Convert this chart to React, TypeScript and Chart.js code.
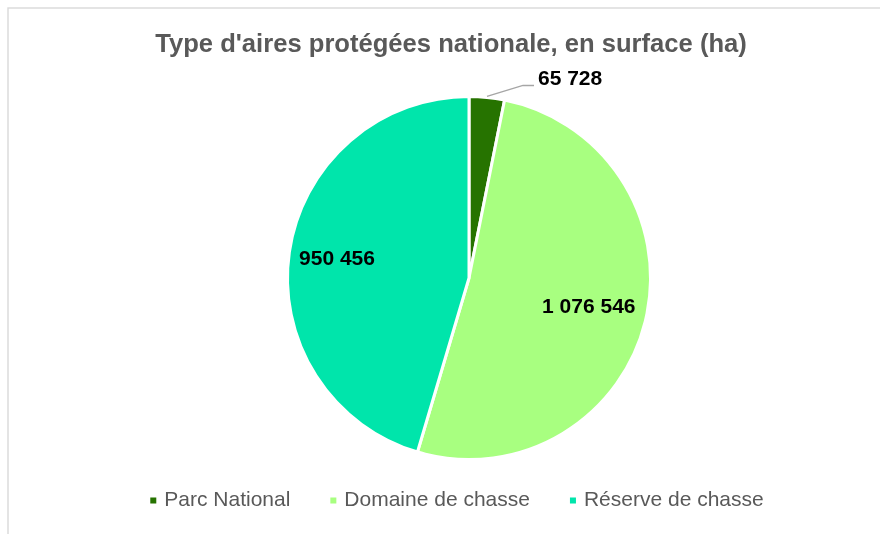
import React, { useEffect, useRef } from "react";
import { Chart, registerables } from "chart.js";

Chart.register(...registerables);

const chartTitle = "Type d'aires protégées nationale, en surface (ha)";
const categories = ["Parc National", "Domaine de chasse", "Réserve de chasse"];
const values = [65728, 1076546, 950456];
const colors = ["#267300", "#a8ff80", "#00e5ab"];
// radial position factor of the inside labels (null = outside with leader line)
const labelRadius: (number | null)[] = [null, 0.68, 0.735];

const fmt = (v: number) => String(v).replace(/\B(?=(\d{3})+(?!\d))/g, " ");

const FONT = "'Liberation Sans', Arial, sans-serif";

const decorPlugin = {
  id: "decor",
  afterDraw(chart: any) {
    const ctx: CanvasRenderingContext2D = chart.ctx;
    ctx.save();
    // outer frame
    ctx.strokeStyle = "#d9d9d9";
    ctx.lineWidth = 1.4;
    ctx.strokeRect(8, 8, 1000, 1000);

    // title
    ctx.fillStyle = "#595959";
    ctx.font = `bold 25.6px ${FONT}`;
    ctx.textAlign = "center";
    ctx.textBaseline = "alphabetic";
    ctx.fillText(chartTitle, 451, 52);

    // data labels
    const meta = chart.getDatasetMeta(0);
    meta.data.forEach((arc: any, i: number) => {
      const p = arc.getProps(["x", "y", "startAngle", "endAngle", "outerRadius"], true);
      const mid = (p.startAngle + p.endAngle) / 2;
      const txt = fmt(values[i]);
      ctx.font = `bold 21px ${FONT}`;
      ctx.fillStyle = "#000000";
      const f = labelRadius[i];
      if (f != null) {
        const r = p.outerRadius * f;
        ctx.textAlign = "center";
        ctx.textBaseline = "middle";
        ctx.fillText(txt, p.x + Math.cos(mid) * r, p.y + Math.sin(mid) * r);
      } else {
        const r0 = p.outerRadius + 1;
        const sx = p.x + Math.cos(mid) * r0;
        const sy = p.y + Math.sin(mid) * r0;
        const ex = sx + 36;
        const ey = sy - 11;
        const hx = ex + 11;
        ctx.strokeStyle = "#a6a6a6";
        ctx.lineWidth = 1.5;
        ctx.beginPath();
        ctx.moveTo(sx, sy);
        ctx.lineTo(ex, ey);
        ctx.lineTo(hx, ey);
        ctx.stroke();
        ctx.textAlign = "left";
        ctx.textBaseline = "middle";
        ctx.fillText(txt, hx + 4, ey - 6.5);
      }
    });

    // legend
    ctx.font = `21px ${FONT}`;
    const box = 6;
    const boxGap = 8;
    const itemGap = 40;
    const widths = categories.map((c) => box + boxGap + ctx.measureText(c).width);
    const total = widths.reduce((a, b) => a + b, 0) + itemGap * (categories.length - 1);
    let x = 457 - total / 2;
    const ly = 500;
    categories.forEach((c, i) => {
      ctx.fillStyle = colors[i];
      ctx.fillRect(x, ly - box / 2 + 0.5, box, box);
      ctx.fillStyle = "#595959";
      ctx.textAlign = "left";
      ctx.textBaseline = "middle";
      ctx.fillText(c, x + box + boxGap, ly);
      x += widths[i] + itemGap;
    });
    ctx.restore();
  },
};

export default function App() {
  const ref = useRef<HTMLCanvasElement | null>(null);
  useEffect(() => {
    if (!ref.current) return;
    const chart = new Chart(ref.current, {
      type: "pie",
      data: {
        labels: categories,
        datasets: [
          {
            data: values,
            backgroundColor: colors,
            borderColor: "#ffffff",
            borderWidth: 3,
            hoverBorderWidth: 3,
          },
        ],
      },
      options: {
        responsive: false,
        animation: false,
        events: [],
        layout: { padding: { top: 95, bottom: 73, left: 58, right: 0 } },
        plugins: {
          legend: { display: false },
          title: { display: false },
          tooltip: { enabled: false },
        },
      },
      plugins: [decorPlugin],
    });
    return () => chart.destroy();
  }, []);
  return (
    <div style={{ position: "absolute", left: 0, top: 0, width: 880, height: 534, background: "#ffffff" }}>
      <canvas ref={ref} width={880} height={534} style={{ display: "block" }} />
    </div>
  );
}
